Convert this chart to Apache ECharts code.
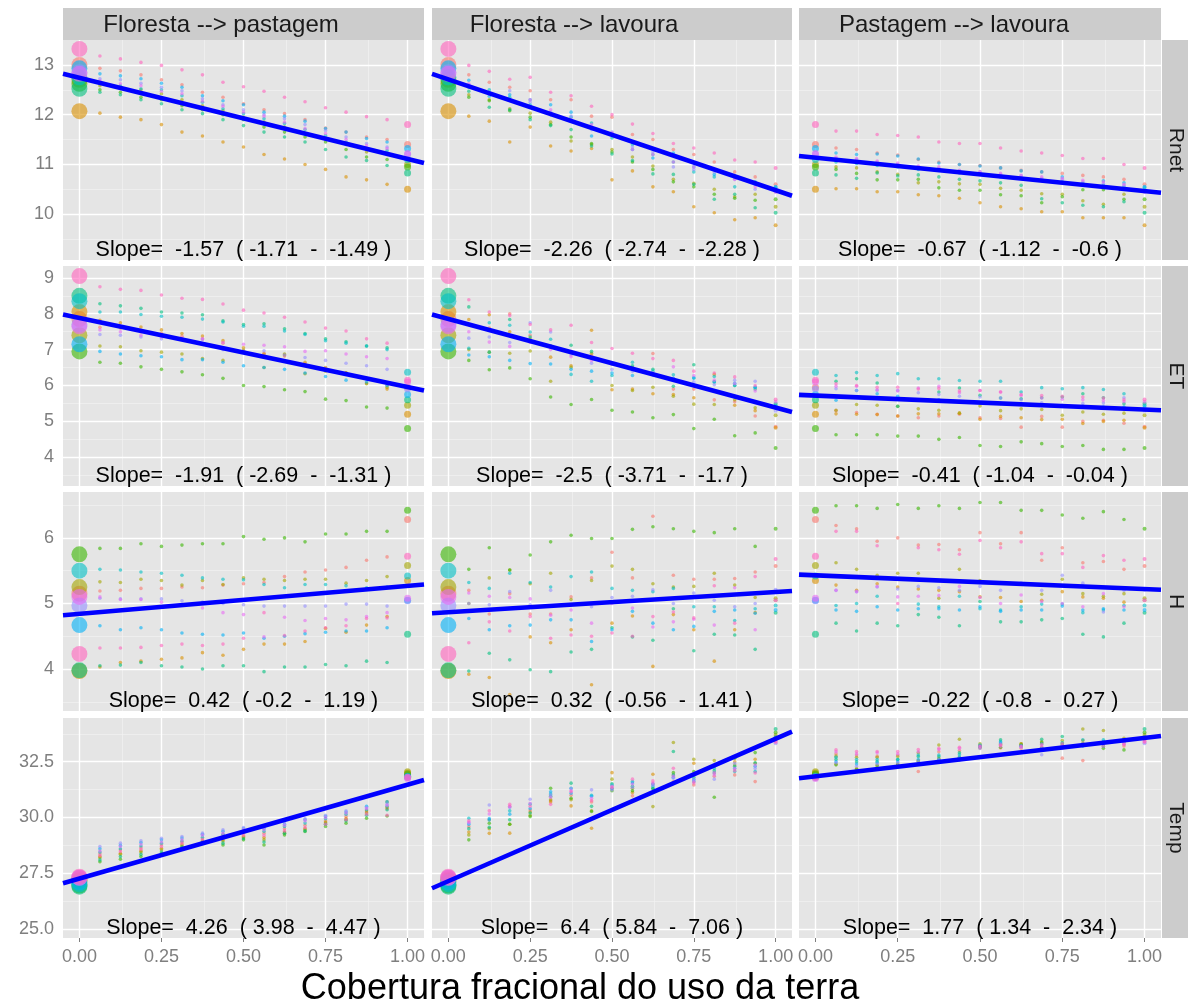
<!DOCTYPE html>
<html><head><meta charset="utf-8">
<script src="https://cdn.jsdelivr.net/npm/echarts@6/dist/echarts.min.js"></script>
<style>html,body{margin:0;padding:0;background:#fff}#chart{width:1188px;height:1008px}</style>
</head><body><div id="chart"></div>
<script>
// ---------- DATA ----------
const xPositions = [0,0.0625,0.125,0.1875,0.25,0.3125,0.375,0.4375,0.5,0.5625,0.625,0.6875,0.75,0.8125,0.875,0.9375,1];
const columnNames = ['Floresta --> pastagem','Floresta --> lavoura','Pastagem --> lavoura'];
const rowNames = ['Rnet','ET','H','Temp'];
// group order: salmon, orange, olive, green, teal, cyan, blue, lavender, magenta, pink
const rnetFP = [
 [13.0,12.93,12.88,12.8,12.7,12.6,12.45,12.35,12.22,12.1,12.02,11.9,11.73,11.65,11.55,11.5,11.4],
 [12.07,12.03,11.95,11.9,11.8,11.65,11.57,11.45,11.35,11.2,11.11,11.0,10.9,10.75,10.69,10.6,10.5],
 [12.7,12.58,12.55,12.5,12.42,12.3,12.18,12.08,11.95,11.85,11.75,11.62,11.5,11.4,11.25,11.2,11.0],
 [12.62,12.5,12.45,12.35,12.3,12.18,12.1,12.0,11.9,11.75,11.65,11.55,11.45,11.3,11.15,11.1,10.95],
 [12.52,12.45,12.4,12.3,12.22,12.1,12.02,11.9,11.78,11.65,11.55,11.45,11.3,11.15,11.08,10.98,10.83],
 [12.75,12.62,12.58,12.52,12.5,12.38,12.25,12.12,12.02,11.92,11.82,11.7,11.58,11.45,11.32,11.28,11.1],
 [12.93,12.82,12.78,12.72,12.63,12.55,12.38,12.28,12.2,12.05,11.97,11.87,11.72,11.65,11.52,11.45,11.32],
 [12.85,12.72,12.7,12.63,12.55,12.48,12.32,12.2,12.1,12.0,11.92,11.8,11.68,11.55,11.42,11.35,11.2],
 [12.82,12.68,12.62,12.58,12.47,12.42,12.27,12.17,12.05,11.97,11.85,11.72,11.62,11.5,11.38,11.32,11.22],
 [13.32,13.18,13.12,13.05,12.99,12.9,12.8,12.65,12.56,12.47,12.35,12.26,12.14,12.05,11.96,11.9,11.8]
];
const rnetFL = [
 [13.0,12.8,12.65,12.55,12.48,12.3,12.3,11.97,11.95,11.6,11.5,11.3,11.2,11.05,10.85,10.75,10.6],
 [12.07,11.97,11.87,11.45,11.75,11.37,11.27,11.32,10.69,10.87,10.55,10.45,10.15,10.03,9.89,9.93,9.78],
 [12.7,12.4,12.3,12.12,12.03,11.85,11.47,11.4,11.3,11.15,10.97,10.7,10.62,10.5,10.35,10.4,10.15],
 [12.62,12.35,12.28,12.08,11.95,11.8,11.55,11.42,11.25,11.05,10.9,10.65,10.55,10.4,10.32,10.28,10.3],
 [12.52,12.47,12.15,12.1,11.9,11.78,11.7,11.37,11.21,11.08,10.81,10.8,10.6,10.3,10.4,10.13,10.03],
 [12.75,12.55,12.5,12.35,12.2,12.0,11.95,11.83,11.53,11.4,11.2,11.05,10.85,10.75,10.55,10.65,10.53],
 [12.93,12.69,12.37,12.4,12.3,12.2,12.05,11.57,11.6,11.3,11.13,11.23,10.95,10.8,10.75,10.6,10.55],
 [12.85,12.6,12.45,12.48,12.25,12.05,11.97,11.7,11.65,11.35,11.25,10.95,10.9,10.85,10.7,10.5,10.45],
 [12.82,12.62,12.42,12.3,12.3,12.1,11.9,11.8,11.63,11.3,11.2,11.05,10.95,10.9,10.7,10.55,10.45],
 [13.32,12.99,12.87,12.71,12.75,12.45,12.38,12.17,12.0,11.81,11.62,11.42,11.33,11.23,11.09,11.05,10.93]
];
const rnetPL = [
 [11.4,11.33,11.3,11.23,11.19,11.1,11.05,11.0,10.98,10.93,10.88,10.85,10.82,10.78,10.75,10.7,10.6],
 [10.5,10.51,10.51,10.45,10.45,10.39,10.37,10.32,10.23,10.15,10.11,10.05,10.05,9.93,9.93,9.93,9.78],
 [11.0,10.95,10.93,10.85,10.8,10.63,10.65,10.61,10.6,10.52,10.48,10.41,10.4,10.27,10.2,10.4,10.15],
 [10.95,10.9,10.82,10.69,10.69,10.7,10.53,10.48,10.48,10.39,10.37,10.23,10.35,10.49,10.49,10.3,10.3],
 [10.83,10.79,10.72,10.83,10.77,10.79,10.75,10.7,10.67,10.63,10.58,10.31,10.23,10.18,10.15,10.25,10.03],
 [11.1,11.05,11.02,10.98,10.95,10.9,10.88,10.83,10.8,10.75,10.72,10.68,10.65,10.62,10.58,10.55,10.53],
 [11.32,11.23,11.2,11.21,11.17,11.11,11.03,11.0,10.97,10.93,10.87,10.85,10.75,10.6,10.67,10.63,10.55],
 [11.2,11.12,11.1,11.05,11.0,10.95,10.92,10.88,10.85,10.8,10.77,10.72,10.7,10.65,10.62,10.58,10.45],
 [11.22,11.15,11.12,11.07,11.03,10.97,10.95,10.87,10.85,10.82,10.78,10.75,10.72,10.68,10.65,10.6,10.45],
 [11.8,11.67,11.67,11.6,11.58,11.55,11.45,11.42,11.42,11.33,11.27,11.23,11.18,11.12,11.12,11.0,10.93]
];
const etFP = [
 [7.85,7.62,7.6,7.5,7.45,7.37,7.3,7.18,6.95,6.9,6.82,6.6,6.45,6.35,6.2,6.0,5.95],
 [8.05,7.82,7.75,7.63,7.55,7.45,7.38,7.25,7.05,6.88,6.85,6.65,6.5,6.35,6.07,5.9,5.2],
 [7.4,7.1,7.08,6.97,6.93,6.88,6.75,6.7,6.98,6.5,6.88,6.33,6.4,6.35,6.05,5.95,5.45],
 [6.95,6.65,6.62,6.52,6.45,6.38,6.3,6.2,6.0,5.97,5.88,5.83,5.62,5.58,5.4,5.37,4.8],
 [8.5,8.28,8.22,8.15,8.05,8.02,7.97,7.8,7.7,7.72,7.58,7.45,7.3,7.22,7.1,7.05,5.6],
 [8.35,8.05,8.05,7.98,7.93,7.9,7.85,7.77,7.65,7.65,7.52,7.42,7.25,7.18,7.1,7.0,6.37],
 [7.15,6.95,6.88,6.83,6.8,6.72,6.72,6.65,6.55,6.5,6.45,6.35,6.25,6.15,6.1,6.0,5.75],
 [7.7,7.42,7.4,7.35,7.3,7.3,7.28,7.0,6.95,6.97,6.85,6.78,6.7,6.62,6.55,6.45,5.9],
 [7.65,7.55,7.5,7.4,7.35,7.32,7.3,7.2,7.15,7.12,7.08,6.95,6.97,6.88,6.8,6.75,6.1],
 [9.05,8.75,8.68,8.65,8.52,8.43,8.4,8.27,8.1,8.02,7.9,7.77,7.6,7.52,7.3,7.18,6.15]
];
const etFL = [
 [7.85,7.7,7.6,8.0,7.4,7.1,6.95,6.85,6.6,6.5,6.89,5.9,5.9,5.6,5.55,5.15,4.85],
 [8.05,7.84,7.97,7.5,7.3,6.79,6.55,7.54,5.88,5.9,5.77,5.75,5.66,6.31,5.45,5.3,4.82],
 [7.4,7.0,6.93,6.9,6.96,6.12,6.51,6.9,6.0,5.86,5.95,5.7,5.48,5.47,5.6,5.38,5.17],
 [6.95,6.7,6.44,6.49,6.19,5.68,5.47,5.61,5.31,5.26,5.1,5.19,4.8,5.06,4.6,4.68,4.26],
 [8.5,8.19,6.93,7.84,7.35,7.1,7.12,6.95,6.6,6.55,6.45,5.98,6.58,6.1,6.0,5.9,5.5],
 [8.35,7.04,7.75,7.68,7.49,7.29,6.31,6.12,6.28,6.65,6.4,6.3,6.2,6.25,6.0,5.95,5.45],
 [7.15,6.85,6.8,6.7,6.61,6.6,6.45,6.4,6.35,6.28,6.3,6.2,6.22,6.1,6.06,5.95,5.4],
 [7.7,7.32,7.35,7.2,7.75,7.49,6.85,6.62,6.45,6.4,6.3,6.2,6.1,6.02,6.15,6.12,5.3],
 [7.65,7.5,7.21,7.09,7.2,7.0,6.8,6.7,6.6,6.45,6.35,6.52,6.28,6.15,6.05,5.85,5.55],
 [9.05,8.39,8.05,7.95,7.7,7.55,7.68,7.2,7.03,6.9,6.75,6.7,6.4,6.35,6.24,6.0,5.61]
];
const etPL = [
 [5.95,5.3,5.25,5.2,5.15,5.1,5.15,5.2,5.1,5.08,4.84,5.14,4.84,5.0,5.03,4.95,4.85],
 [5.2,5.21,5.2,5.19,5.15,5.21,5.21,5.23,5.06,5.14,5.1,5.05,5.06,4.94,5.0,5.03,4.82],
 [5.45,5.31,5.47,5.45,5.42,5.35,5.31,5.23,5.43,5.3,5.35,5.33,5.17,5.26,5.2,5.23,5.17],
 [4.8,4.63,4.63,4.63,4.59,4.59,4.5,4.55,4.33,4.3,4.43,4.38,4.3,4.33,4.22,4.22,4.26],
 [5.6,6.12,6.19,6.07,5.42,5.59,5.82,5.93,5.73,5.65,5.63,5.66,5.68,5.77,5.66,5.49,5.5],
 [6.37,6.28,6.36,6.28,6.33,6.19,6.19,6.14,6.12,6.12,5.82,5.94,5.91,5.94,5.89,5.77,5.45],
 [5.75,5.59,5.86,5.77,5.7,5.59,5.6,5.55,5.52,5.5,5.48,5.45,5.42,5.42,5.4,5.4,5.4],
 [5.9,5.91,5.86,5.86,5.86,5.8,5.75,5.7,5.68,5.65,5.6,5.52,5.45,5.5,5.51,5.66,5.3],
 [6.1,5.98,5.98,5.88,5.85,5.93,5.98,5.8,5.86,5.82,5.72,5.65,5.62,5.6,5.58,5.55,5.55],
 [6.15,6.05,6.0,5.95,5.95,5.9,5.92,5.85,5.86,5.82,5.75,5.72,5.7,5.68,5.65,5.6,5.61]
];
const hFP = [
 [5.15,5.19,5.2,5.23,5.23,5.25,5.24,5.28,5.3,5.32,5.41,5.48,5.51,5.55,5.66,5.71,6.28],
 [3.97,4.03,4.1,4.12,4.15,4.17,4.25,4.21,4.3,4.38,4.38,4.42,4.62,4.56,4.67,4.8,5.35],
 [5.25,5.33,5.32,5.37,5.35,5.28,5.35,5.29,5.39,5.37,5.35,5.37,5.37,5.31,5.35,5.41,5.58],
 [5.75,5.84,5.84,5.91,5.87,5.89,5.91,5.91,6.02,5.98,6.0,5.94,6.06,6.06,6.1,6.1,6.42],
 [3.98,4.05,4.06,4.1,4.05,4.03,4.0,4.05,4.05,3.96,4.03,4.03,4.07,4.05,4.12,4.1,4.53],
 [5.5,5.52,5.51,5.48,5.46,5.43,5.39,5.37,5.36,5.29,5.24,5.29,5.29,5.27,5.24,5.25,5.42],
 [4.67,4.66,4.6,4.63,4.6,4.55,4.53,4.52,4.55,4.47,4.5,4.54,4.56,4.58,4.58,4.63,5.05],
 [4.97,5.08,5.07,5.07,5.07,5.04,5.02,5.0,4.98,4.96,4.96,4.96,4.96,4.99,4.99,4.96,5.04],
 [5.1,5.1,5.06,5.06,5.02,4.98,4.93,4.86,4.83,4.49,4.79,4.74,4.77,4.75,4.8,4.86,5.08],
 [4.23,4.32,4.32,4.33,4.36,4.38,4.36,4.38,4.47,4.86,4.51,4.58,4.63,4.66,4.77,4.78,5.72]
];
const hFL = [
 [5.15,5.2,4.84,5.15,4.84,4.84,5.1,5.39,5.78,5.39,6.33,5.43,5.37,5.37,5.38,5.48,5.57],
 [3.97,3.92,3.87,3.61,4.49,4.4,4.6,3.76,4.7,4.81,4.04,4.83,4.6,4.12,4.6,4.86,5.05],
 [5.25,5.0,5.39,5.51,5.3,5.46,5.06,5.35,5.57,5.52,5.3,5.25,5.26,5.46,5.28,5.09,5.08],
 [5.75,5.52,5.85,5.51,5.74,5.94,6.04,5.99,5.99,6.13,6.17,6.14,6.1,6.08,6.14,5.87,6.14],
 [3.98,3.97,4.24,4.14,3.99,3.96,4.26,4.3,4.63,4.49,4.44,4.92,4.28,4.53,4.52,4.3,4.86],
 [5.5,5.32,5.23,5.46,5.32,5.25,5.41,5.48,5.23,5.2,5.18,5.23,4.95,4.95,4.74,4.92,4.97],
 [4.67,4.77,4.6,4.66,4.67,4.75,4.75,4.42,4.6,4.88,4.7,4.6,4.65,4.88,4.9,4.85,4.9],
 [4.97,5.0,4.98,5.18,4.98,5.2,4.98,4.95,5.09,5.11,5.21,5.0,5.16,5.05,4.95,5.0,5.21],
 [5.1,5.16,5.11,5.09,5.07,4.82,4.9,4.7,5.0,4.93,4.64,4.72,4.76,4.67,5.24,4.6,5.05],
 [4.23,4.4,4.72,4.58,4.8,4.47,4.52,4.5,4.55,4.5,4.8,4.87,4.78,5.27,4.7,5.41,5.68]
];
const hPL = [
 [6.28,6.19,6.14,5.95,6.0,5.89,5.9,5.82,6.08,5.91,6.08,5.66,5.85,5.62,5.64,5.52,5.57],
 [5.35,5.28,5.2,5.3,5.25,5.22,5.2,5.18,5.1,5.09,5.03,5.05,5.18,5.1,5.08,5.02,5.05],
 [5.58,5.62,5.52,5.43,5.46,5.46,5.08,5.52,5.35,5.31,5.3,5.14,5.37,5.15,5.11,5.15,5.08],
 [6.42,6.49,6.49,6.45,6.51,6.45,6.49,6.45,6.54,6.54,6.42,6.42,6.35,6.3,6.4,6.28,6.14],
 [4.53,4.7,4.58,4.7,4.66,4.83,4.79,4.66,5.03,4.72,4.72,4.75,4.77,4.53,4.49,4.7,4.86],
 [5.42,4.97,5.0,5.11,5.37,4.99,4.95,5.11,4.92,4.9,4.95,4.99,4.99,4.86,4.9,4.97,4.97],
 [5.05,4.9,4.88,4.95,4.9,4.92,4.92,4.9,4.95,4.88,4.9,4.9,4.96,4.9,4.92,4.9,4.9],
 [5.04,5.2,5.18,5.25,5.22,5.26,5.24,5.2,5.26,5.2,5.31,5.2,5.43,5.31,4.87,5.2,5.21],
 [5.08,5.2,5.18,5.26,5.1,5.11,5.12,5.26,5.09,5.0,5.13,5.03,5.0,4.95,5.15,4.95,5.05],
 [5.72,6.1,6.1,5.88,5.0,5.85,5.82,5.75,5.96,5.85,5.94,5.76,5.76,5.55,5.73,5.66,5.68]
];
const tempFP = [
 [27.25,28.38,28.55,28.65,28.78,28.9,29.05,29.2,29.3,29.3,29.5,29.65,29.85,30.05,30.25,30.4,31.9],
 [27.2,28.25,28.4,28.5,28.62,28.78,28.95,29.0,29.15,29.1,29.35,29.5,29.8,29.95,30.3,30.45,32.0],
 [27.15,28.2,28.35,28.45,28.55,28.72,28.92,28.95,29.1,29.0,29.3,29.45,29.75,29.9,30.2,30.7,32.05],
 [26.95,28.02,28.13,28.25,28.37,28.62,28.87,28.77,29.0,28.77,29.22,29.37,29.6,29.74,29.97,30.07,31.95],
 [26.9,28.1,28.25,28.35,28.45,28.68,28.9,28.85,29.05,28.9,29.3,29.4,29.7,29.85,30.1,30.35,31.85],
 [27.0,28.45,28.6,28.72,28.85,28.95,29.12,29.25,29.4,29.38,29.6,29.75,29.95,30.15,30.35,30.5,31.85],
 [27.1,28.6,28.75,28.88,29.0,29.08,29.25,29.38,29.5,29.5,29.7,29.9,30.05,30.25,30.5,30.7,31.8],
 [27.3,28.7,28.85,28.96,29.07,29.15,29.3,29.45,29.55,29.55,29.75,29.95,30.1,30.3,30.45,30.6,31.8],
 [27.3,28.5,28.7,28.8,28.9,29.0,29.2,29.3,29.45,29.45,29.65,29.85,30.0,30.2,30.4,30.55,31.75],
 [27.35,28.3,28.48,28.58,28.7,28.85,29.0,29.1,29.2,29.2,29.4,29.55,29.7,29.9,30.15,30.1,31.8]
];
const tempFL = [
 [27.25,29.6,29.9,30.49,30.34,30.75,31.0,30.7,31.3,30.97,31.5,31.6,31.46,31.85,31.91,31.61,33.5],
 [27.2,29.35,29.29,29.3,30.25,30.7,30.52,29.52,32.01,31.12,31.94,31.9,32.43,32.3,32.5,32.61,33.6],
 [27.15,29.22,29.5,29.7,30.1,30.8,30.8,30.3,31.72,31.31,30.49,33.36,32.61,32.55,32.35,32.43,33.7],
 [26.95,29.0,29.74,29.7,30.04,31.31,30.86,30.27,31.2,31.2,31.3,32.01,32.06,30.91,32.66,32.91,33.81],
 [26.9,29.5,29.56,29.9,30.2,30.95,31.54,30.5,31.51,31.4,31.3,32.96,31.8,32.1,32.3,32.45,33.97],
 [27.0,29.97,29.89,30.3,30.6,31.05,31.31,31.0,31.45,31.61,31.39,31.9,31.61,32.21,32.06,32.06,33.6],
 [27.1,29.7,29.95,30.15,30.4,31.15,31.09,30.95,31.3,31.55,31.5,31.8,31.7,32.0,32.2,32.3,33.55],
 [27.3,29.75,30.56,30.45,30.82,31.01,31.3,31.24,31.24,31.35,31.45,31.76,31.7,31.72,32.43,32.2,33.33],
 [27.3,29.79,30.16,30.5,30.64,30.91,31.2,30.86,31.4,31.5,31.55,31.85,31.6,31.9,32.2,32.35,33.4],
 [27.35,29.85,30.3,30.59,30.5,30.59,31.15,30.76,31.35,31.72,31.64,32.21,31.55,32.0,32.1,32.0,33.4]
];
const tempPL = [
 [31.9,32.85,32.8,32.75,32.8,32.06,32.95,33.0,33.1,33.12,33.1,33.1,32.66,32.55,33.18,33.2,33.5],
 [32.0,32.4,32.2,32.35,32.4,32.55,32.65,32.7,33.15,33.25,33.3,33.15,33.2,33.45,33.2,33.4,33.6],
 [32.05,32.75,32.7,32.7,32.73,32.9,33.25,33.51,33.3,33.3,33.3,33.4,33.45,33.97,33.9,33.55,33.7],
 [31.95,32.36,32.16,32.31,32.36,32.51,32.58,32.6,33.2,33.15,33.25,33.35,33.3,33.3,33.1,33.03,33.81],
 [31.85,32.6,32.5,32.51,32.6,32.73,32.73,32.9,33.2,33.48,33.2,33.51,33.63,33.3,33.3,33.48,33.97],
 [31.85,32.7,32.6,32.6,32.6,32.8,32.8,32.81,33.25,33.4,33.22,33.3,33.35,33.48,33.48,33.45,33.6],
 [31.8,32.5,32.4,32.45,32.5,32.6,32.6,32.7,33.18,33.35,33.18,33.1,33.2,33.2,33.4,33.4,33.55],
 [31.8,32.45,32.3,32.4,32.45,32.51,32.58,32.58,33.1,33.3,33.18,32.81,33.1,33.25,33.18,33.3,33.33],
 [31.75,32.95,32.85,32.9,32.85,32.95,33.05,33.1,33.18,33.2,33.15,33.2,33.2,33.25,33.3,33.3,33.4],
 [31.8,33.03,32.96,32.96,32.96,33.05,33.1,33.15,33.2,33.25,33.2,33.28,33.3,33.3,33.35,33.28,33.4]
];
// fitted regression line values at the left (x=-0.05) and right (x=1.05) panel edges
const fitStart = [[12.82,12.82,11.17],[7.98,7.98,5.74],[4.82,4.85,5.44],[27.05,26.83,31.76]];
const fitEnd   = [[11.03,10.37,10.43],[5.86,5.26,5.31],[5.29,5.19,5.21],[31.68,33.85,33.65]];
const slopeLabels = [
 ['Slope=  -1.57  ( -1.71  -  -1.49 )','Slope=  -2.26  ( -2.74  -  -2.28 )','Slope=  -0.67  ( -1.12  -  -0.6 )'],
 ['Slope=  -1.91  ( -2.69  -  -1.31 )','Slope=  -2.5  ( -3.71  -  -1.7 )','Slope=  -0.41  ( -1.04  -  -0.04 )'],
 ['Slope=  0.42  ( -0.2  -  1.19 )','Slope=  0.32  ( -0.56  -  1.41 )','Slope=  -0.22  ( -0.8  -  0.27 )'],
 ['Slope=  4.26  ( 3.98  -  4.47 )','Slope=  6.4  ( 5.84  -  7.06 )','Slope=  1.77  ( 1.34  -  2.34 )']
];
const xMajorTicks = [0,0.25,0.5,0.75,1];
const xMinorTicks = [0.125,0.375,0.625,0.875];
const yMajorTicks = [[10,11,12,13],[4,5,6,7,8,9],[4,5,6],[25,27.5,30,32.5]];
const yMinorTicks = [[9.5,10.5,11.5,12.5],[3.5,4.5,5.5,6.5,7.5,8.5],[3.5,4.5,5.5,6.5],[26.25,28.75,31.25,33.75]];
const xTitle = 'Cobertura fracional do uso da terra';

// ---------- STYLE / LAYOUT ----------
const panels = [[rnetFP,rnetFL,rnetPL],[etFP,etFL,etPL],[hFP,hFL,hPL],[tempFP,tempFL,tempPL]];
const groupColors = ['#F8766D','#D89000','#A3A500','#39B600','#00BF7D','#00BFC4','#00B0F6','#9590FF','#E76BF3','#FF62BC'];
const yMin = [9.08,3.2,3.36,24.6], yMax = [13.5,9.33,6.70,34.46];
const yDecimals = [0,0,0,1];
const colLeft = [63,432,799], colWidth = [361,360,362];
const rowTop = [40,266,492,718], rowHeight = [220,220,219,220];
const sizeAt0 = [16,16,7], sizeAt1 = [7,4,4], sizeMid = 3.6;
const FONT = '"Liberation Sans", Arial, sans-serif';
const stripLabelX = [221,574,954];

const grids = [], xAxes = [], yAxes = [], series = [], graphics = [];
let k = 0;
for (let r = 0; r < 4; r++) {
  for (let c = 0; c < 3; c++) {
    grids.push({left: colLeft[c], top: rowTop[r], width: colWidth[c], height: rowHeight[r],
      show: true, backgroundColor: '#E5E5E5', borderWidth: 0});
    const showX = r === 3, showY = c === 0;
    xAxes.push({gridIndex: k, type: 'value', min: -0.05, max: 1.05,
      axisLine: {show: false}, splitLine: {show: false},
      axisTick: {show: showX, customValues: xMajorTicks, length: 4, lineStyle: {color: '#7F7F7F', width: 1}},
      axisLabel: {show: showX, customValues: xMajorTicks, margin: 10, color: '#7F7F7F', fontSize: 18,
        fontFamily: FONT, formatter: v => Number(v).toFixed(2)}});
    const dec = yDecimals[r];
    yAxes.push({gridIndex: k, type: 'value', min: yMin[r], max: yMax[r],
      axisLine: {show: false}, splitLine: {show: false},
      axisTick: {show: showY, customValues: yMajorTicks[r], length: 4, lineStyle: {color: '#7F7F7F', width: 1}},
      axisLabel: {show: showY, customValues: yMajorTicks[r], margin: 9, color: '#7F7F7F', fontSize: 18,
        fontFamily: FONT, formatter: v => Number(v).toFixed(dec)}});
    const gl = [];
    xMinorTicks.forEach(v => gl.push({xAxis: v, lineStyle: {color: '#F2F2F2', width: 0.7, type: 'solid'}}));
    yMinorTicks[r].forEach(v => gl.push({yAxis: v, lineStyle: {color: '#F2F2F2', width: 0.7, type: 'solid'}}));
    xMajorTicks.forEach(v => gl.push({xAxis: v, lineStyle: {color: '#FFFFFF', width: 1.4, type: 'solid'}}));
    yMajorTicks[r].forEach(v => gl.push({yAxis: v, lineStyle: {color: '#FFFFFF', width: 1.4, type: 'solid'}}));
    const panel = panels[r][c];
    const cc = c;
    panel.forEach((vals, g) => {
      const s = {type: 'scatter', xAxisIndex: k, yAxisIndex: k, silent: true, z: 2,
        data: vals.map((v, i) => [xPositions[i], v]),
        symbol: 'circle',
        symbolSize: (val, p) => p.dataIndex === 0 ? sizeAt0[cc] : (p.dataIndex === xPositions.length - 1 ? sizeAt1[cc] : sizeMid),
        itemStyle: {color: groupColors[g], opacity: 0.6},
        emphasis: {disabled: true}};
      if (g === 0) {
        s.markLine = {silent: true, z: 1, symbol: ['none','none'], label: {show: false},
          emphasis: {disabled: true}, animation: false, data: gl};
      }
      series.push(s);
    });
    series.push({type: 'line', xAxisIndex: k, yAxisIndex: k, silent: true, z: 4,
      data: [[-0.05, fitStart[r][c]], [1.05, fitEnd[r][c]]],
      symbol: 'none', lineStyle: {color: '#0000FF', width: 4.6}, emphasis: {disabled: true}});
    graphics.push({type: 'text', x: colLeft[c] + colWidth[c] / 2, y: rowTop[r] + rowHeight[r] - 10, z: 10,
      style: {text: slopeLabels[r][c], font: '21.5px ' + FONT, fill: '#000000',
        textAlign: 'center', textVerticalAlign: 'middle', align: 'center', verticalAlign: 'middle'}});
    k++;
  }
}
// top strips
for (let c = 0; c < 3; c++) {
  graphics.push({type: 'rect', shape: {x: colLeft[c], y: 8, width: colWidth[c], height: 32}, style: {fill: '#CCCCCC'}});
  graphics.push({type: 'text', x: stripLabelX[c], y: 25, style: {text: columnNames[c], font: '24px ' + FONT, fill: '#1A1A1A',
    textAlign: 'center', textVerticalAlign: 'middle', align: 'center', verticalAlign: 'middle'}});
}
// right strips
for (let r = 0; r < 4; r++) {
  graphics.push({type: 'rect', shape: {x: 1162, y: rowTop[r], width: 26, height: rowHeight[r]}, style: {fill: '#CCCCCC'}});
  graphics.push({type: 'text', x: 1176, y: rowTop[r] + rowHeight[r] / 2, rotation: -Math.PI / 2,
    style: {text: rowNames[r], font: '21px ' + FONT, fill: '#1A1A1A',
      textAlign: 'center', textVerticalAlign: 'middle', align: 'center', verticalAlign: 'middle'}});
}
graphics.push({type: 'text', x: 580, y: 989, style: {text: xTitle, font: '36px ' + FONT, fill: '#000000',
  textAlign: 'center', textVerticalAlign: 'middle', align: 'center', verticalAlign: 'middle'}});

const chart = echarts.init(document.getElementById('chart'), null, {renderer: 'canvas', width: 1188, height: 1008});
chart.setOption({
  animation: false,
  backgroundColor: '#FFFFFF',
  textStyle: {fontFamily: FONT},
  grid: grids, xAxis: xAxes, yAxis: yAxes, series: series,
  graphic: {elements: graphics}
});
</script></body></html>
